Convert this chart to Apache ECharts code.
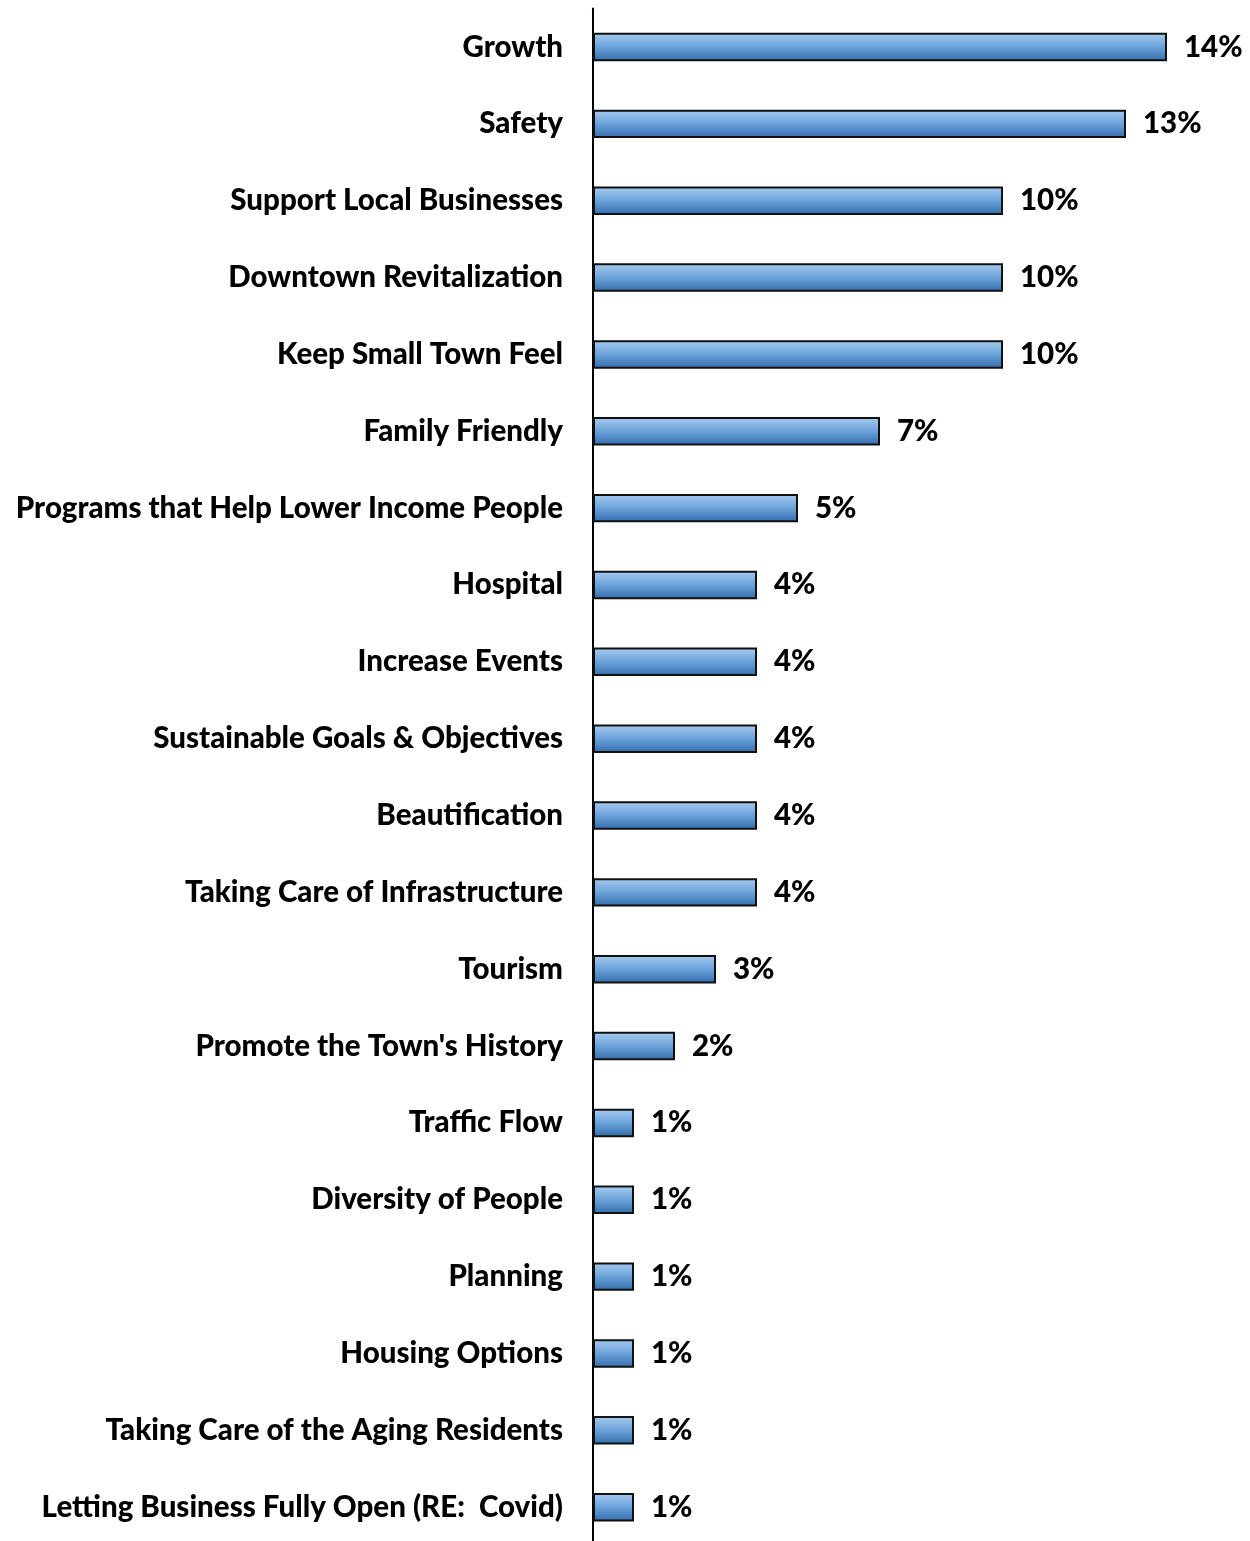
<!DOCTYPE html>
<html>
<head>
<meta charset="utf-8">
<script src="https://cdn.jsdelivr.net/npm/echarts@6/dist/echarts.min.js"></script>
<style>
  html, body { margin: 0; padding: 0; background: #fff; overflow: hidden; }
  #chart { width: 1250px; height: 1560px; }
</style>
</head>
<body>
<div id="chart"></div>
<script>
// Priorities, listed top to bottom
const categories = [
  'Growth',
  'Safety',
  'Support Local Businesses',
  'Downtown Revitalization',
  'Keep Small Town Feel',
  'Family Friendly',
  'Programs that Help Lower Income People',
  'Hospital',
  'Increase Events',
  'Sustainable Goals & Objectives',
  'Beautification',
  'Taking Care of Infrastructure',
  'Tourism',
  "Promote the Town's History",
  'Traffic Flow',
  'Diversity of People',
  'Planning',
  'Housing Options',
  'Taking Care of the Aging Residents',
  'Letting Business Fully Open (RE:  Covid)'
];
// Share of responses, percent
const values = [14, 13, 10, 10, 10, 7, 5, 4, 4, 4, 4, 4, 3, 2, 1, 1, 1, 1, 1, 1];

const chart = echarts.init(document.getElementById('chart'));
const FONT = 'Lato';

chart.setOption({
  animation: false,
  backgroundColor: '#ffffff',
  // plot area runs slightly past the visible bottom edge so the axis line reaches it
  grid: { left: 593, top: 8.6, width: 656, height: 1537, containLabel: false },
  xAxis: {
    type: 'value', min: 0, max: 16, show: false
  },
  yAxis: {
    type: 'category',
    data: categories,
    inverse: true,
    axisLine: { show: true, lineStyle: { color: '#000', width: 2 } },
    axisTick: { show: false },
    axisLabel: {
      margin: 30,
      color: '#000',
      fontFamily: FONT,
      fontWeight: 900,
      fontSize: 29.5
    }
  },
  series: [{
    type: 'bar',
    data: values,
    barWidth: '37%',
    itemStyle: {
      color: new echarts.graphic.LinearGradient(0, 0, 0, 1, [
        { offset: 0, color: '#a8cdf0' },
        { offset: 0.5, color: '#6ba2da' },
        { offset: 1, color: '#316cab' }
      ]),
      borderColor: '#111',
      borderWidth: 2
    },
    label: {
      show: true,
      position: 'right',
      distance: 17,
      formatter: p => p.value + '%',
      color: '#000',
      fontFamily: FONT,
      fontWeight: 900,
      fontSize: 29.5
    }
  }]
});
</script>
</body>
</html>
